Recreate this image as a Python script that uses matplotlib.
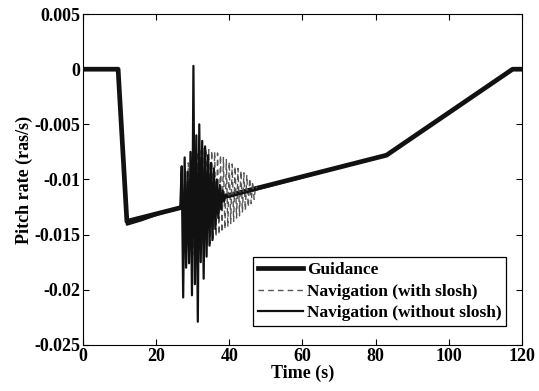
import numpy as np
import matplotlib.pyplot as plt

plt.rcParams['font.family'] = ['Liberation Serif', 'DejaVu Serif']
plt.rcParams['font.weight'] = 'bold'
plt.rcParams['axes.labelweight'] = 'bold'
plt.rcParams['font.size'] = 13

# Guidance (trajectoire de reference)
t_guid = [0, 9.6, 12.0, 83.0, 117.5, 120]
q_guid = [0, 0, -0.0138, -0.0078, 0, 0]

# Navigation sans ballottement : pics
t_nav = [0, 9.6, 12.0, 16.0, 22.0, 26.6,
         27.0, 27.4, 27.8, 28.2, 28.6, 29.0, 29.4, 29.8, 30.2, 30.6,
         31.0, 31.4, 31.8, 32.2, 32.6, 33.0, 33.4, 33.8, 34.2, 34.6,
         35.0, 35.4, 35.8, 36.2, 36.6, 37.0, 37.4, 37.8, 38.2, 38.6,
         39.0, 39.6, 83.0, 117.5, 120]
q_nav = [0, 0, -0.0141, -0.0137, -0.0130, -0.0125,
         -0.0088, -0.0207, -0.0080, -0.0180, -0.0093, -0.0176, -0.0075, -0.0205, 0.0003, -0.0195,
         -0.0060, -0.0229, -0.0050, -0.0175, -0.0065, -0.0190, -0.0070, -0.0170, -0.0078, -0.0160,
         -0.0085, -0.0155, -0.0090, -0.0145, -0.0100, -0.0135, -0.0105, -0.0127, -0.0110, -0.0120,
         -0.0114, -0.0116, -0.0078, 0, 0]

# Navigation avec ballottement
t_slo = [0, 9.6, 12.0, 16.0, 22.0, 27.6,
         28.0, 28.4, 28.8, 29.2, 29.6, 30.0, 30.4, 30.8, 31.2, 31.6,
         32.0, 32.4, 32.8, 33.2, 33.6, 34.0, 34.4, 34.8, 35.2, 35.6,
         36.0, 36.4, 36.8, 37.2, 37.6, 38.0, 38.4, 38.8, 39.2, 39.6,
         40.0, 40.4, 40.8, 41.2, 41.6, 42.0, 42.4, 42.8, 43.2, 43.6,
         44.0, 44.4, 44.8, 45.2, 45.6, 46.0, 46.4, 46.8, 47.2, 47.8,
         83.0, 117.5, 120]
q_slo = [0, 0, -0.0141, -0.0137, -0.0130, -0.0124,
         -0.0090, -0.0160, -0.0085, -0.0165, -0.0082, -0.0168, -0.0078, -0.0166, -0.0075, -0.0165,
         -0.0074, -0.0164, -0.0072, -0.0163, -0.0072, -0.0160, -0.0073, -0.0158, -0.0074, -0.0155,
         -0.0075, -0.0152, -0.0076, -0.0150, -0.0078, -0.0148, -0.0080, -0.0145, -0.0082, -0.0143,
         -0.0084, -0.0140, -0.0086, -0.0138, -0.0088, -0.0135, -0.0090, -0.0133, -0.0092, -0.0130,
         -0.0094, -0.0128, -0.0096, -0.0125, -0.0099, -0.0122, -0.0102, -0.0118, -0.0106, -0.0109,
         -0.0078, 0, 0]

fig = plt.figure(figsize=(5.39, 3.91), dpi=100)
ax = fig.add_axes([0.154, 0.118, 0.814, 0.846])

ax.plot(t_guid, q_guid, color='#111111', linewidth=3.4, label='Guidance', zorder=2)
ax.plot(t_slo, q_slo, '--', color='#555555', linewidth=1.0, dashes=(4, 3), label='Navigation (with slosh)', zorder=3)
ax.plot(t_nav, q_nav, color='#111111', linewidth=1.6, label='Navigation (without slosh)', zorder=4)

ax.set_xlim(0, 120)
ax.set_ylim(-0.025, 0.005)
ax.set_xticks([0, 20, 40, 60, 80, 100, 120])
ax.set_yticks([-0.025, -0.02, -0.015, -0.01, -0.005, 0, 0.005])
ax.set_yticklabels(['-0.025', '-0.02', '-0.015', '-0.01', '-0.005', '0', '0.005'])
ax.tick_params(direction='in', top=True, right=True, length=4, pad=2)
ax.set_xlabel('Time (s)', labelpad=0)
ax.set_ylabel('Pitch rate (ras/s)', labelpad=1)

leg = ax.legend(loc='lower right', bbox_to_anchor=(0.985, 0.03), fancybox=False, edgecolor='black',
                framealpha=1, handlelength=2.6, handletextpad=0.2, borderpad=0.3, labelspacing=0.3,
                prop={'size': 12.5, 'weight': 'bold'})
leg.get_frame().set_linewidth(0.9)

plt.savefig('out.png', dpi=100)
